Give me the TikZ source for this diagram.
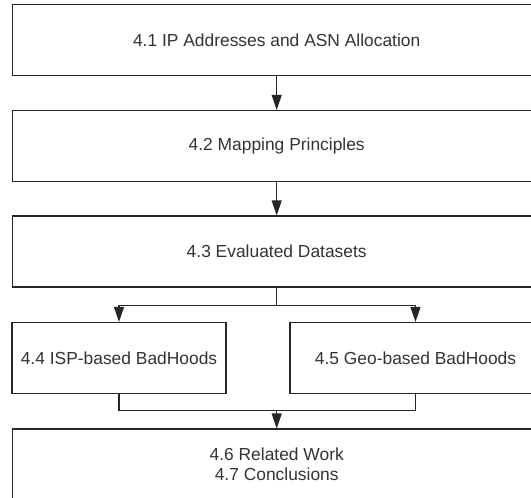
\documentclass[tikz,border=0pt]{standalone}
\usepackage{fontspec}
\setmainfont{Liberation Sans}
\usetikzlibrary{arrows.meta,calc,positioning}

\begin{document}
\begin{tikzpicture}[
    x=1pt, y=1pt,
    box/.style={draw=black!85, line width=1.2pt, minimum height=71pt, inner sep=0pt,
      align=center, text=black!80, font=\fontsize{17.4}{19.6}\selectfont},
    wide/.style={box, minimum width=528.5pt},
    half/.style={box, minimum width=214pt},
    halfwide/.style={box, minimum width=251pt},
    link/.style={draw=black!85, line width=1.2pt},
    arr/.style={link, -{Triangle[length=15pt,width=10pt]}},
]
\useasboundingbox (0,0) rectangle (531,-498);
\clip (0,0) rectangle (531,-498);

% ---------- sections ----------
\node[wide] (ipasn)    at (276.7,-40)    {4.1 IP Addresses and ASN Allocation};
\node[wide] (mapping)  at (276.7,-146)   {4.2 Mapping Principles};
\node[wide] (datasets) at (276.7,-251.5) {4.3 Evaluated Datasets};
\node[half] (isp)      at (119,-358)     {4.4 ISP-based BadHoods};
\node[halfwide] (geo)  at (415.5,-358)   {4.5 Geo-based BadHoods};
\node[wide] (related)  at (276.7,-464.5) {4.6 Related Work\\4.7 Conclusions};

% ---------- flow ----------
\draw[arr] (ipasn) -- (mapping);
\draw[arr] (mapping) -- (datasets);

% split into the two BadHoods sections
\coordinate (split) at ($(datasets.south)+(0,-18)$);
\draw[link] (datasets.south) -- (split);
\draw[arr] (split) -| (isp.north);
\draw[arr] (split) -| (geo.north);

% join again
\coordinate (join) at ($(related.north)+(0,18)$);
\draw[link] (isp.south) |- (join) -| (geo.south);
\draw[arr] (join) -- (related);

\end{tikzpicture}
\end{document}
